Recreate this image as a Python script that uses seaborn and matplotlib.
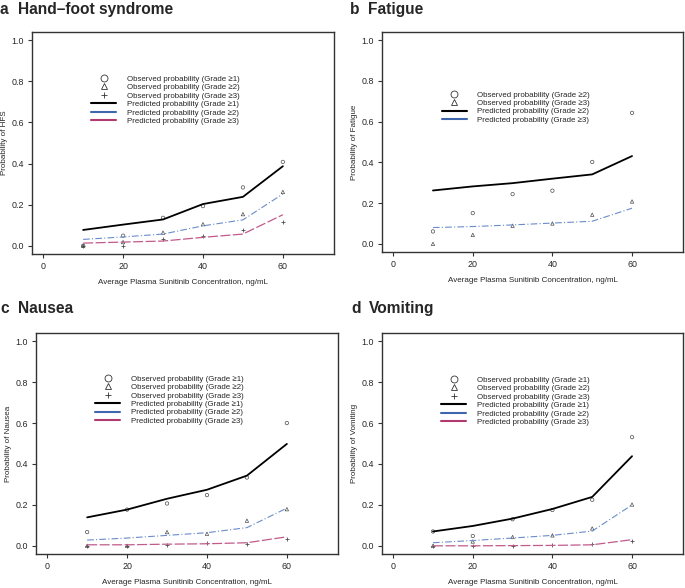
"""
Exposure-response curves for sunitinib adverse events.
"""

import matplotlib.pyplot as plt
import numpy as np
import pandas as pd
import seaborn as sns
from matplotlib.lines import Line2D

sns.set_style("ticks")
plt.rcParams["font.family"] = ["Liberation Sans", "DejaVu Sans"]

# data
conc = [10, 20, 30, 40, 50, 60]

hfs_obs1 = [0.0, 0.049, 0.136, 0.193, 0.284, 0.408]
hfs_obs2 = [0.0, 0.018, 0.064, 0.105, 0.154, 0.262]
hfs_obs3 = [0.0, 0.0, 0.031, 0.049, 0.075, 0.118]
hfs_pred1 = [0.077, 0.103, 0.128, 0.203, 0.238, 0.387]
hfs_pred2 = [0.031, 0.043, 0.057, 0.097, 0.126, 0.252]
hfs_pred3 = [0.013, 0.018, 0.023, 0.041, 0.057, 0.151]

fatigue_obs2 = [0.061, 0.151, 0.244, 0.261, 0.402, 0.643]
fatigue_obs3 = [0.0, 0.044, 0.089, 0.100, 0.143, 0.208]
fatigue_pred2 = [0.262, 0.282, 0.298, 0.320, 0.341, 0.431]
fatigue_pred3 = [0.080, 0.085, 0.093, 0.102, 0.111, 0.175]

nausea_obs1 = [0.067, 0.177, 0.207, 0.248, 0.334, 0.600]
nausea_obs2 = [0.0, 0.0, 0.067, 0.059, 0.123, 0.179]
nausea_obs3 = [0.0, 0.0, 0.005, 0.015, 0.011, 0.031]
nausea_pred1 = [0.139, 0.177, 0.230, 0.274, 0.343, 0.498]
nausea_pred2 = [0.028, 0.038, 0.051, 0.064, 0.089, 0.184]
nausea_pred3 = [0.005, 0.005, 0.008, 0.010, 0.015, 0.044]

vomit_obs1 = [0.070, 0.048, 0.130, 0.175, 0.225, 0.531]
vomit_obs2 = [0.0, 0.021, 0.043, 0.051, 0.085, 0.202]
vomit_obs3 = [0.0, 0.0, 0.0, 0.005, 0.008, 0.025]
vomit_pred1 = [0.070, 0.097, 0.133, 0.180, 0.239, 0.438]
vomit_pred2 = [0.015, 0.026, 0.038, 0.051, 0.072, 0.200]
vomit_pred3 = [0.0, 0.0, 0.001, 0.002, 0.005, 0.030]

xticks = [0, 20, 40, 60]
yticks = [0.0, 0.2, 0.4, 0.6, 0.8, 1.0]
xlabel = "Average Plasma Sunitinib Concentration, ng/mL"

BLUE = "#3f65ad"
RED = "#b03a70"
BLUE_LIGHT = "#6a8cca"
RED_LIGHT = "#c25a8b"
MARK = "#4d4d4d"

W, H = 685, 588
fig = plt.figure(figsize=(W / 100, H / 100), dpi=100)


def px_axes(left, right, top, bottom):
    return fig.add_axes([left / W, 1 - bottom / H, (right - left) / W, (bottom - top) / H])


def draw_panel(ax, obs, pred, grades, ylabel, leg_anchor):
    markers = ["o", "^", "+"]
    styles = [
        dict(color="black", linewidth=1.3, linestyle="-"),
        dict(color=BLUE_LIGHT, linewidth=0.8, linestyle=(0, (6, 2, 1, 2))),
        dict(color=RED_LIGHT, linewidth=0.9, linestyle=(0, (8, 2))),
    ]
    for i, y in enumerate(pred):
        sns.lineplot(ax=ax, x=conc, y=y, **styles[i])
    for i, y in enumerate(obs):
        if markers[i] == "+":
            sns.scatterplot(ax=ax, x=conc, y=y, marker="+", color=MARK, s=10, linewidth=0.6)
        else:
            sns.scatterplot(ax=ax, x=conc, y=y, marker=markers[i], s=6,
                            facecolors="none", edgecolors=MARK, linewidth=0.5)

    handles, labels = [], []
    for i, g in enumerate(grades):
        mk = markers[i]
        handles.append(Line2D([], [], linestyle="none", marker=mk, markersize=5,
                              markerfacecolor="none", markeredgecolor="#333333",
                              markeredgewidth=0.6, color="#333333"))
        labels.append(f"Observed probability (Grade \u2265{g})")
    leg_colors = ["black", BLUE, RED]
    for i, g in enumerate(grades):
        handles.append(Line2D([], [], color=leg_colors[i], linewidth=1.5))
        labels.append(f"Predicted probability (Grade \u2265{g})")
    ax.legend(handles, labels, loc="upper left", bbox_to_anchor=leg_anchor,
              frameon=False, fontsize=5.7, labelspacing=0.12, handlelength=3.2,
              handletextpad=1.3, borderpad=0, borderaxespad=0)

    ax.set_xlim(-2.8, 72.8)
    ax.set_ylim(-0.04, 1.04)
    ax.set_xticks(xticks)
    ax.set_yticks(yticks)
    ax.set_yticklabels([f"{v:.1f}" for v in yticks])
    ax.tick_params(labelsize=6.4, length=3, width=0.8, pad=3, color="#333333")
    for sp in ax.spines.values():
        sp.set_visible(True)
        sp.set_linewidth(1.0)
        sp.set_color("#333333")
    ax.set_xlabel(xlabel, fontsize=5.8)
    ax.set_ylabel(ylabel, fontsize=5.8)
    ax.xaxis.set_label_coords(0.5, -0.114)
    ax.yaxis.set_label_coords(-0.08, 0.5)


ax_a = px_axes(32, 334, 32, 254)
ax_b = px_axes(382, 683, 32, 252)
ax_c = px_axes(36, 338, 333, 554)
ax_d = px_axes(382, 683, 333, 554)

draw_panel(ax_a, [hfs_obs1, hfs_obs2, hfs_obs3], [hfs_pred1, hfs_pred2, hfs_pred3],
           [1, 2, 3], "Probability of HFS", (0.195, 0.806))
draw_panel(ax_b, [fatigue_obs2, fatigue_obs3], [fatigue_pred2, fatigue_pred3],
           [2, 3], "Probability of Fatigue", (0.198, 0.732))
draw_panel(ax_c, [nausea_obs1, nausea_obs2, nausea_obs3], [nausea_pred1, nausea_pred2, nausea_pred3],
           [1, 2, 3], "Probability of Nausea", (0.195, 0.81))
draw_panel(ax_d, [vomit_obs1, vomit_obs2, vomit_obs3], [vomit_pred1, vomit_pred2, vomit_pred3],
           [1, 2, 3], "Probability of Vomiting", (0.196, 0.805))

# panel titles
titles = [("a", "Hand\u2013foot syndrome", 0, 14), ("b", "Fatigue", 350, 14),
          ("c", "Nausea", 0, 313), ("d", "Vomiting", 351, 313)]
for letter, name, x0, yb in titles:
    fig.text(x0 / W, 1 - yb / H, letter, fontsize=11.2, fontweight="bold", va="baseline")
    fig.text((x0 + 18) / W, 1 - yb / H, name, fontsize=11.2, fontweight="bold", va="baseline")

plt.savefig("out.png", dpi=100)
